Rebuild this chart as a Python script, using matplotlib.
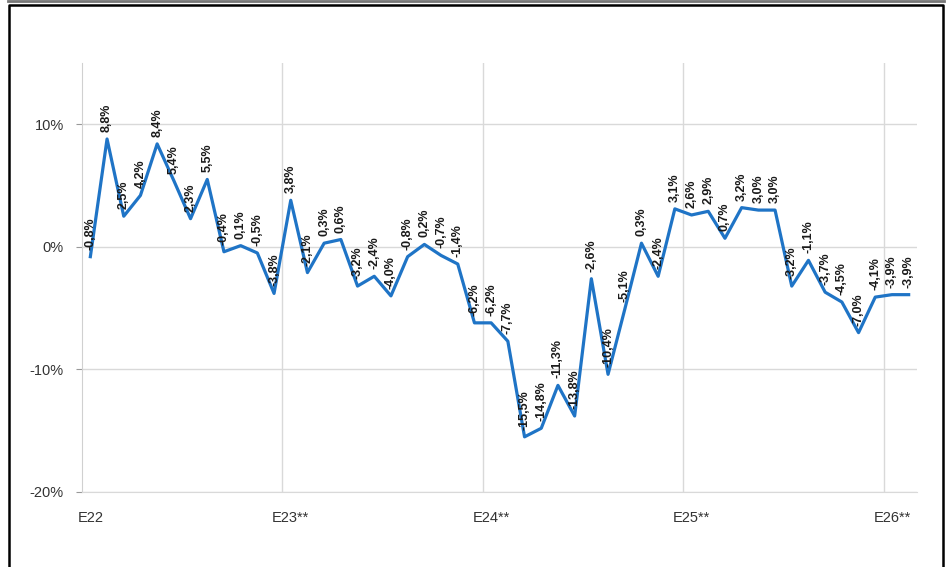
import numpy as np
import matplotlib
matplotlib.use("Agg")
from matplotlib import pyplot as plt
from matplotlib.lines import Line2D

# monthly values, Jan 2022 .. Feb 2026
values = [-0.8, 8.8, 2.5, 4.2, 8.4, 5.4, 2.3, 5.5, -0.4, 0.1, -0.5, -3.8,
          3.8, -2.1, 0.3, 0.6, -3.2, -2.4, -4.0, -0.8, 0.2, -0.7, -1.4, -6.2,
          -6.2, -7.7, -15.5, -14.8, -11.3, -13.8, -2.6, -10.4, -5.1, 0.3, -2.4, 3.1,
          2.6, 2.9, 0.7, 3.2, 3.0, 3.0, -3.2, -1.1, -3.7, -4.5, -7.0, -4.1,
          -3.9, -3.9]
year_labels = ['E22', 'E23**', 'E24**', 'E25**', 'E26**']
y_ticks = [-20, -10, 0, 10]

plt.rcParams['font.family'] = ['Liberation Sans', 'DejaVu Sans']

fig = plt.figure(figsize=(9.47, 5.67), dpi=100)
ax = fig.add_axes([82/947, 1-492/567, (917-82)/947, (492-63)/567])

x = np.arange(len(values)) + 0.5
ax.plot(x, values, color='#1f74c6', lw=2.3, zorder=3)

for xi, v in zip(x, values):
    txt = ('%.1f%%' % v).replace('.', ',')
    ax.annotate(txt, (xi, v), xytext=(0, 5), textcoords='offset points',
                rotation=90, ha='center', va='bottom', fontsize=9,
                color='#1a1a1a', fontweight='bold', zorder=4,
                family=['Liberation Sans Narrow', 'Liberation Sans', 'DejaVu Sans'])

ax.set_xlim(0, len(values))
ax.set_ylim(-20, 15)
ax.set_yticks(y_ticks)
ax.set_yticklabels(['%d%%' % t for t in y_ticks], fontsize=10.5, color='#333333')

# year labels centred on first month, gridlines on the year boundary
ax.set_xticks([12*i + 0.5 for i in range(len(year_labels))])
ax.set_xticklabels(year_labels, fontsize=10.5, color='#333333')
ax.set_xticks([12*i for i in range(1, len(year_labels))], minor=True)
ax.tick_params(axis='x', which='both', length=0, pad=14)
ax.tick_params(axis='y', length=4, color='#999999', pad=9)

ax.grid(axis='y', color='#d9d9d9', lw=1.0)
ax.grid(axis='x', which='minor', color='#d9d9d9', lw=1.0)
ax.set_axisbelow(True)

for s in ['top', 'right']:
    ax.spines[s].set_visible(False)
ax.spines['left'].set_color('#d0d0d0')
ax.spines['bottom'].set_color('#d9d9d9')

# outer frame
W, H = 947.0, 567.0
fig.add_artist(Line2D([8/W, 944/W], [1-1/H, 1-1/H], color='#777777', lw=2.0))
fig.add_artist(Line2D([9/W, 9/W, 943/W, 943/W], [0, 1-5/H, 1-5/H, 0],
                      color='black', lw=1.8))

fig.savefig('out.png', dpi=100)
plt.close()
